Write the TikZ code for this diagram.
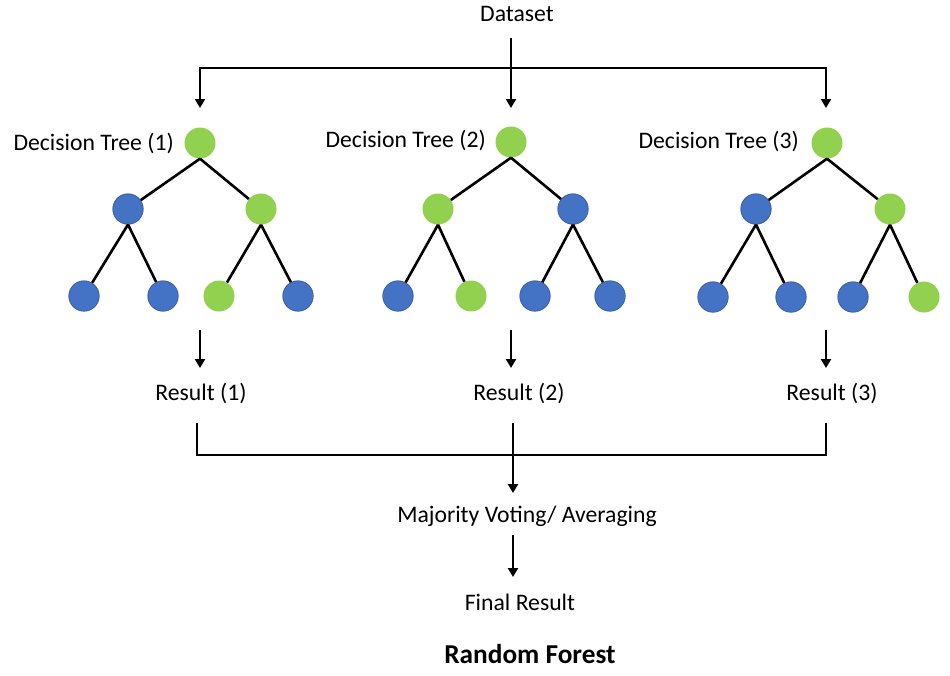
\documentclass[tikz,border=0pt]{standalone}
\usepackage{fontspec}
\setmainfont{Carlito}
\usetikzlibrary{arrows.meta}
\definecolor{lgreen}{HTML}{92D050}
\definecolor{mblue}{HTML}{4472C4}
\definecolor{dblue}{HTML}{2F528F}
\begin{document}
\begin{tikzpicture}[x=1pt,y=-1pt,
  gn/.style={circle,fill=lgreen,minimum size=31pt,inner sep=0pt},
  bn/.style={circle,fill=mblue,draw=dblue,line width=0.6pt,minimum size=30.5pt,inner sep=0pt},
  lbl/.style={font=\fontsize{23.7}{28}\selectfont,inner sep=0pt},
  edge/.style={line width=2.6pt},
  arr/.style={line width=2.6pt,-{Triangle[length=9pt,width=10pt]}},
  arrb/.style={line width=2.6pt,{Triangle[length=9pt,width=10pt]}-{Triangle[length=9pt,width=10pt]}}]
\useasboundingbox (0,0) rectangle (950,675);
\fill[white] (0,0) rectangle (950,675);

% labels
\node[lbl] (ds) at (517,14) {Dataset};
\node[lbl,anchor=east] (l1) at (174,143) {Decision Tree (1)};
\node[lbl,anchor=east] (l2) at (486,140) {Decision Tree (2)};
\node[lbl,anchor=east] (l3) at (799,141) {Decision Tree (3)};
\node[lbl] (r1) at (201,393) {Result (1)};
\node[lbl] (r2) at (519,393) {Result (2)};
\node[lbl] (r3) at (832,393) {Result (3)};
\node[lbl] (mv) at (527,516) {Majority Voting/ Averaging};
\node[lbl] (fr) at (520,602) {Final Result};
\node[lbl,font=\fontsize{27.3}{32}\selectfont\bfseries] (rf) at (530,654) {Random Forest};

% tree 1
\node[gn] (a0) at (200,143) {};
\node[bn] (a1) at (128,209) {};
\node[gn] (a2) at (261,209) {};
\node[bn] (a3) at (84,296) {};
\node[bn] (a4) at (163,296) {};
\node[gn] (a5) at (219,296) {};
\node[bn] (a6) at (298,296) {};
% tree 2
\node[gn] (b0) at (511,142) {};
\node[gn] (b1) at (438,209) {};
\node[bn] (b2) at (573,209) {};
\node[bn] (b3) at (398,296) {};
\node[gn] (b4) at (471,296) {};
\node[bn] (b5) at (535,296) {};
\node[bn] (b6) at (610,296) {};
% tree 3
\node[gn] (c0) at (827,143) {};
\node[bn] (c1) at (756,209) {};
\node[gn] (c2) at (890,209) {};
\node[bn] (c3) at (713,297) {};
\node[bn] (c4) at (791,297) {};
\node[bn] (c5) at (853,297) {};
\node[gn] (c6) at (924,297) {};

\foreach \t in {a,b,c}{
  \draw[edge] (\t0.south) -- (\t1);
  \draw[edge] (\t0.south) -- (\t2);
  \draw[edge] (\t1.south) -- (\t3);
  \draw[edge] (\t1.south) -- (\t4);
  \draw[edge] (\t2.south) -- (\t5);
  \draw[edge] (\t2.south) -- (\t6);
}

% top connectors
\coordinate (d0) at (511,38);
\coordinate (hl) at (200,68);
\coordinate (hr) at (826,68);
\coordinate (t1) at (200,108);
\coordinate (t2) at (511,108);
\coordinate (t3) at (826,108);
\draw[arr] (d0) -- (t2);
\draw[arrb] (t1) -- (hl) -- (hr) -- (t3);

% result arrows
\coordinate (p1) at (200,330);
\coordinate (q1) at (200,368);
\coordinate (p2) at (511,330);
\coordinate (q2) at (511,368);
\coordinate (p3) at (826,330);
\coordinate (q3) at (826,368);
\draw[arr] (p1) -- (q1);
\draw[arr] (p2) -- (q2);
\draw[arr] (p3) -- (q3);

% bottom bracket
\coordinate (s1) at (197,423);
\coordinate (s1c) at (197,455);
\coordinate (s3c) at (826,455);
\coordinate (s3) at (826,423);
\coordinate (sm) at (513,423);
\coordinate (smt) at (513,493);
\draw[edge] (s1) -- (s1c) -- (s3c) -- (s3);
\draw[arr] (sm) -- (smt);

\coordinate (v0) at (513,535);
\coordinate (v1) at (513,577);
\draw[arr] (v0) -- (v1);
\end{tikzpicture}
\end{document}
